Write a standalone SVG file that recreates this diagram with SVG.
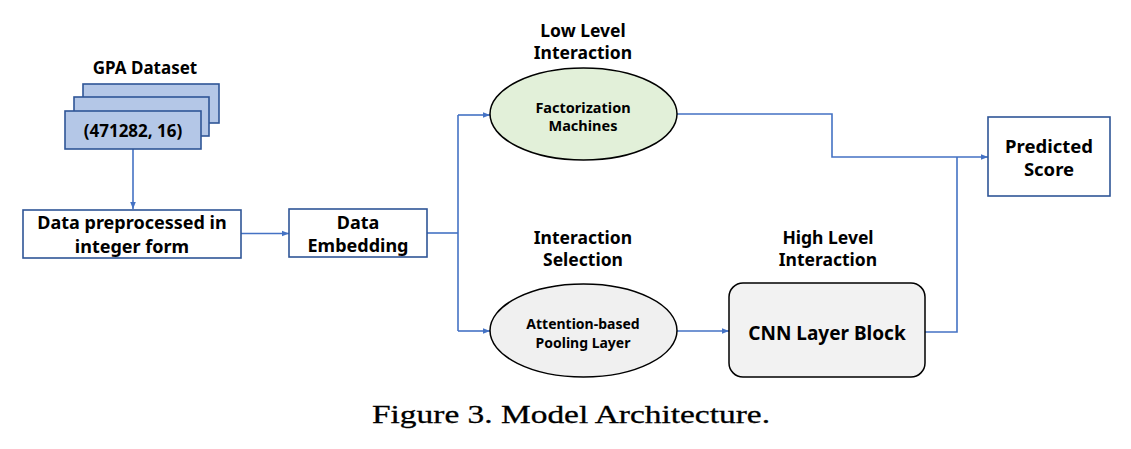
<svg xmlns="http://www.w3.org/2000/svg" width="1131" height="449" viewBox="0 0 1131 449">
<defs>
<style>
.t{font-family:"Noto Sans","Open Sans","DejaVu Sans",sans-serif;font-weight:bold;fill:#000;text-anchor:middle;dominant-baseline:central}
.ln{fill:none;stroke:#4472C4;stroke-width:1.6}
.box{fill:#fff;stroke:#2F5597;stroke-width:1.6}
.ds{fill:#B4C7E7;stroke:#2F5597;stroke-width:1.6}
.cap{font-family:"Liberation Serif","Times New Roman",serif;font-size:26px;fill:#000;stroke:#000;stroke-width:0.3}
</style>
<marker id="ah" viewBox="0 0 10 10" refX="10" refY="5" markerWidth="7" markerHeight="7" markerUnits="userSpaceOnUse" orient="auto">
<path d="M0,1 L10,5 L0,9 z" fill="#4472C4"/>
</marker>
</defs>
<rect width="1131" height="449" fill="#fff"/>

<g id="connectors">
<path class="ln" d="M133,149 V209" marker-end="url(#ah)"/>
<path class="ln" d="M241,233.5 H289" marker-end="url(#ah)"/>
<path class="ln" d="M427,233 H458"/>
<path class="ln" d="M458,115 V331"/>
<path class="ln" d="M458,115 H490" marker-end="url(#ah)"/>
<path class="ln" d="M458,331 H490" marker-end="url(#ah)"/>
<path class="ln" d="M677,114 H832 V157 H988" marker-end="url(#ah)"/>
<path class="ln" d="M677,331 H729" marker-end="url(#ah)"/>
<path class="ln" d="M925,332 H957 V157"/>
</g>

<g id="gpa-dataset">
<text class="t" x="145" y="67" font-size="17">GPA Dataset</text>
<rect class="ds" x="83" y="84" width="136" height="39"/>
<rect class="ds" x="74" y="97" width="135" height="39"/>
<rect class="ds" x="65" y="111" width="136" height="38"/>
<text class="t" x="133" y="130" font-size="17">(471282, 16)</text>
</g>

<g id="preprocessed">
<rect class="box" x="23" y="210" width="218" height="48"/>
<text class="t" x="132" y="222" font-size="18">Data preprocessed in</text>
<text class="t" x="132" y="246" font-size="18">integer form</text>
</g>

<g id="embedding">
<rect class="box" x="289" y="209" width="138" height="48"/>
<text class="t" x="358" y="222" font-size="18">Data</text>
<text class="t" x="358" y="245" font-size="18">Embedding</text>
</g>

<g id="fm">
<text class="t" x="583" y="30" font-size="17.5">Low Level</text>
<text class="t" x="583" y="52" font-size="17.5">Interaction</text>
<ellipse cx="583.5" cy="114" rx="93.5" ry="46" fill="#E2F0D9" stroke="#000" stroke-width="1.5"/>
<text class="t" x="583" y="107" font-size="14.5">Factorization</text>
<text class="t" x="583" y="125" font-size="14.5">Machines</text>
</g>

<g id="attention">
<text class="t" x="583" y="237" font-size="17.5">Interaction</text>
<text class="t" x="583" y="259" font-size="17.5">Selection</text>
<ellipse cx="583.5" cy="330.5" rx="93.5" ry="46.5" fill="#F0F0F0" stroke="#000" stroke-width="1.5"/>
<text class="t" x="583" y="323" font-size="14">Attention-based</text>
<text class="t" x="583" y="342" font-size="14">Pooling Layer</text>
</g>

<g id="cnn">
<text class="t" x="828" y="237" font-size="17.5">High Level</text>
<text class="t" x="828" y="259" font-size="17.5">Interaction</text>
<rect x="729" y="283" width="196" height="94" rx="14" fill="#F2F2F2" stroke="#000" stroke-width="1.5"/>
<text class="t" x="827" y="333" font-size="19">CNN Layer Block</text>
</g>

<g id="predicted">
<rect class="box" x="988" y="117" width="122" height="79"/>
<text class="t" x="1049" y="145" font-size="18.5">Predicted</text>
<text class="t" x="1049" y="168" font-size="18.5">Score</text>
</g>

<text class="cap" x="372" y="423" textLength="398" lengthAdjust="spacingAndGlyphs">Figure 3. Model Architecture.</text>
</svg>
